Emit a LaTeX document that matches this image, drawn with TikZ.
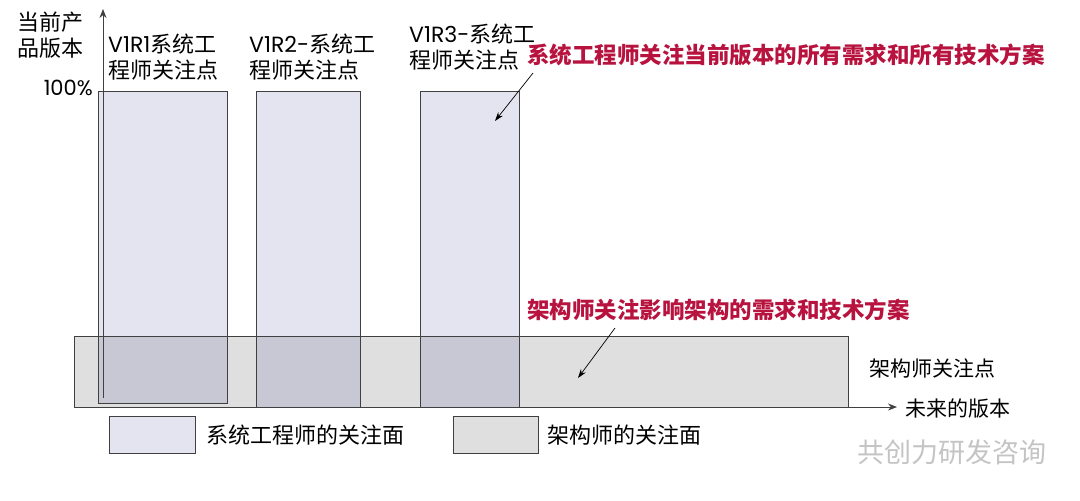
\documentclass[tikz,border=0pt]{standalone}
\usepackage{fontspec}
\setmainfont{Noto Sans CJK SC}
\newfontfamily\lat{Poppins}
\usetikzlibrary{arrows.meta}
\definecolor{sysfill}{HTML}{E4E4F0}
\definecolor{archfill}{HTML}{DFDFDF}
\definecolor{ovfill}{HTML}{C8C8D4}
\definecolor{edgec}{HTML}{404040}
\definecolor{notec}{HTML}{B8123E}
\definecolor{wmark}{HTML}{C4C4C4}
\begin{document}
\begin{tikzpicture}[x=1pt,y=-1pt,
  outline/.style={draw=edgec, line width=0.9pt},
  lbl/.style={font=\fontsize{22}{26}\selectfont, align=left, inner sep=0pt, anchor=west},
  notetext/.style={text=notec, font=\bfseries\fontsize{22.5}{26}\selectfont, inner sep=0pt, anchor=west},
  axisarrow/.style={draw=edgec, line width=0.9pt, -{Stealth[length=9pt,width=7pt]}},
  pointer/.style={draw=black, line width=0.7pt, -{Stealth[length=9pt,width=6pt]}}]
\useasboundingbox (0,0) rectangle (1080,501);
\fill[white] (0,0) rectangle (1080,501);
% fills
\fill[archfill] (74,336) rectangle (848,407);
\fill[sysfill] (98,91) rectangle (227,403);
\fill[sysfill] (256,91) rectangle (360,407);
\fill[sysfill] (420,91) rectangle (519,407);
\fill[ovfill] (98,336) rectangle (227,403);
\fill[ovfill] (256,336) rectangle (360,407);
\fill[ovfill] (420,336) rectangle (519,407);
% outlines
\draw[outline] (74,336) rectangle (848,407);
\draw[outline] (98,91) rectangle (227,403);
\draw[outline] (256,91) rectangle (360,407);
\draw[outline] (420,91) rectangle (519,407);
% axes
\coordinate (xo) at (74,407);
\coordinate (xe) at (897,407);
\coordinate (yo) at (103,398);
\coordinate (ye) at (103,9);
\draw[axisarrow] (xo) -- (xe);
\draw[axisarrow] (yo) -- (ye);
% labels
\node[lbl] (ylab) at (17,35) {当前产\\品版本};
\node[font=\lat\fontsize{21}{24}\selectfont, inner sep=0pt, anchor=east] (pct) at (93,88) {100\%};
\node[lbl] (v1) at (108,57) {{\lat V1R1}系统工\\程师关注点};
\node[lbl] (v2) at (249,57) {{\lat V1R2-}系统工\\程师关注点};
\node[lbl] (v3) at (409,47) {{\lat V1R3-}系统工\\程师关注点};
\node[notetext] (n1) at (527,55) {系统工程师关注当前版本的所有需求和所有技术方案};
\node[notetext] (n2) at (527,310) {架构师关注影响架构的需求和技术方案};
\node[lbl, font=\fontsize{21}{25}\selectfont] (archpt) at (869,368) {架构师关注点};
\node[lbl, font=\fontsize{21}{25}\selectfont] (xlab) at (905,409) {未来的版本};
% pointers
\coordinate (p1s) at (533,73);
\coordinate (p1e) at (495,121);
\coordinate (p2s) at (615,328);
\coordinate (p2e) at (578,378);
\draw[pointer] (p1s) -- (p1e);
\draw[pointer] (p2s) -- (p2e);
% legend
\draw[outline, fill=sysfill] (109,416) rectangle (195,453);
\node[lbl] (leg1) at (206,435) {系统工程师的关注面};
\draw[outline, fill=archfill] (453,416) rectangle (538,453);
\node[lbl] (leg2) at (547,435) {架构师的关注面};
% watermark
\node[lbl, font=\fontsize{27}{30}\selectfont, text=wmark] (wm) at (857,452) {共创力研发咨询};
\end{tikzpicture}
\end{document}
